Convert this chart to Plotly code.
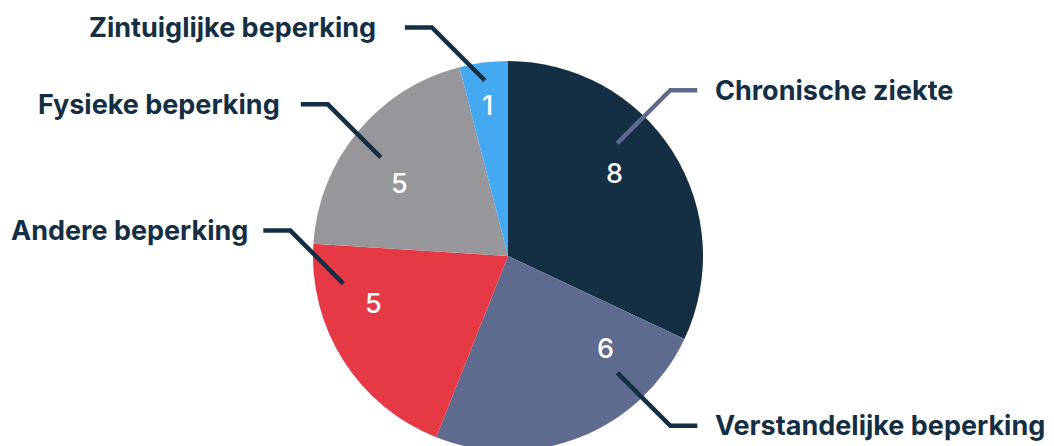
import math
import plotly.graph_objects as go

# ---- data ----
categories = ["Chronische ziekte", "Verstandelijke beperking", "Andere beperking",
              "Fysieke beperking", "Zintuiglijke beperking"]
values = [8, 6, 5, 5, 1]

# ---- style ----
colors = ["#142f44", "#5f6b8e", "#e63946", "#97979b", "#45a9f2"]
leader_colors = ["#5f6b8e", "#142f44", "#142f44", "#142f44", "#142f44"]
text_color = "#142f44"
FONT = "Inter"

W, H = 1054, 451
CX, CY, R = 508, 256, 195          # pie centre / radius in px

# label layout (angle from 12 o'clock clockwise, radius in px)
num_pos = [(52.4, 135), (133.6, 134), (250.6, 143), (303.8, 131), (352.4, 152)]
lead_pos = [(44.1, 157), (136.9, 160), (260.5, 167), (307.8, 161), (352.5, 177)]
lead_dir = [(1, -1), (1, 1), (-1, -1), (-1, -1), (-1, -1)]
DIAG, HSEG = 53, 27
text_gap = [16, 16, 13, 19, 27]


def polar(a, r):
    t = math.radians(a)
    return CX + r * math.sin(t), CY - r * math.cos(t)


def px(x):
    return x / W


def py(y):
    return 1 - y / H


fig = go.Figure(go.Pie(
    labels=categories, values=values, sort=False, direction="clockwise", rotation=0,
    marker=dict(colors=colors, line=dict(color="white", width=0)),
    textinfo="none", hoverinfo="label+value",
    domain=dict(x=[(CX - R) / W, (CX + R) / W], y=[0, 2 * R / H]),
    showlegend=False,
))

shapes, annotations = [], []
for i, cat in enumerate(categories):
    nx, ny = polar(*num_pos[i])
    annotations.append(dict(x=px(nx), y=py(ny), xref="paper", yref="paper", text=str(values[i]),
                            showarrow=False, xanchor="center", yanchor="middle",
                            font=dict(family=FONT, size=27, color="white", weight=500)))
    sx, sy = polar(*lead_pos[i])
    dx, dy = lead_dir[i]
    ex, ey = sx + dx * DIAG, sy + dy * DIAG
    hx = ex + dx * HSEG
    path = f"M {px(sx)},{py(sy)} L {px(ex)},{py(ey)} L {px(hx)},{py(ey)}"
    shapes.append(dict(type="path", path=path, xref="paper", yref="paper",
                       line=dict(color=leader_colors[i], width=4.5)))
    tx = hx + dx * text_gap[i]
    annotations.append(dict(x=px(tx), y=py(ey), xref="paper", yref="paper", text=cat,
                            showarrow=False, xanchor="left" if dx > 0 else "right",
                            yanchor="middle",
                            font=dict(family=FONT, size=27, color=text_color, weight=700)))

fig.update_layout(width=W, height=H, margin=dict(l=0, r=0, t=0, b=0),
                  paper_bgcolor="white", plot_bgcolor="white",
                  shapes=shapes, annotations=annotations)

fig.write_html("out.html", config={"displayModeBar": False}, post_script=(
    "document.documentElement.style.overflow='hidden';"
    "document.body.style.overflow='hidden';document.body.style.margin='0';"))
